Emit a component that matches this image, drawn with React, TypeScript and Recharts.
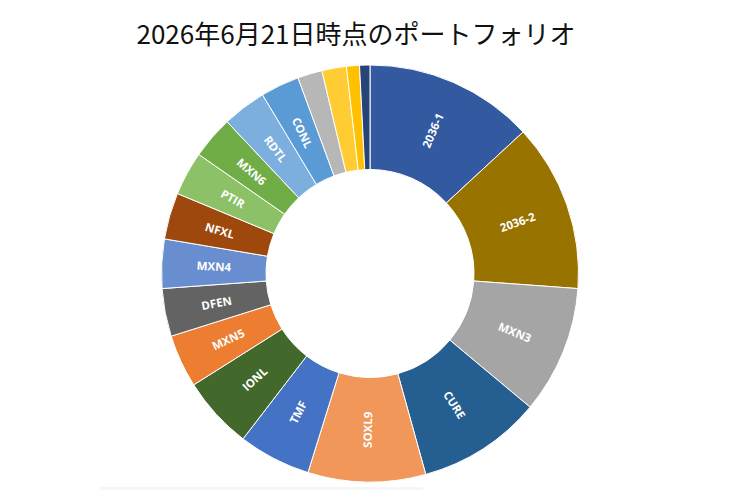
import React from "react";
import { PieChart, Pie, Cell } from "recharts";

const names = [
  "2036-1", "2036-2", "MXN3", "CURE", "SOXL9", "TMF", "IONL", "MXN5", "DFEN",
  "MXN4", "NFXL", "PTIR", "MXN6", "RDTL", "CONL", "その他A", "その他B", "その他C", "その他D",
];
const shares = [
  13.1, 13.0, 9.9, 9.6, 9.1, 5.6, 5.6, 4.1, 3.7,
  3.8, 3.6, 3.4, 3.3, 3.4, 3.0, 1.9, 1.9, 1.0, 0.8,
];
const showLabel = [
  true, true, true, true, true, true, true, true, true,
  true, true, true, true, true, true, false, false, false, false,
];
const colors = [
  "#335AA0", "#997300", "#A5A5A5", "#255E91", "#F1975A", "#4472C4", "#43682B", "#ED7D31", "#636363",
  "#698ED0", "#9E480E", "#8CC168", "#70AD47", "#7CAFDD", "#5B9BD5", "#B7B7B7", "#FFCD33", "#FFC000", "#264478",
];
const title = "2026年6月21日時点のポートフォリオ";

const data = names.map((n, i) => ({ name: n, value: shares[i], show: showLabel[i] }));

const RAD = Math.PI / 180;

const renderLabel = (props: any) => {
  const { cx, cy, midAngle, innerRadius, outerRadius, index } = props;
  if (!showLabel[index]) return null;
  const r = (innerRadius + outerRadius) / 2;
  const x = cx + r * Math.cos(-midAngle * RAD);
  const y = cy + r * Math.sin(-midAngle * RAD);
  let rot = (((-midAngle) % 180) + 180) % 180;
  if (rot > 90) rot -= 180;
  return (
    <text
      x={x}
      y={y}
      fill="#ffffff"
      fontSize={11.5}
      fontWeight={700}
      fontFamily="'Open Sans', 'Noto Sans', sans-serif"
      textAnchor="middle"
      dominantBaseline="central"
      transform={`rotate(${rot} ${x} ${y})`}
    >
      {names[index]}
    </text>
  );
};

export default function App() {
  return (
    <div style={{ position: "absolute", left: 0, top: 0, width: 740, height: 493, background: "#ffffff" }}>
      <PieChart width={740} height={493} margin={{ top: 0, right: 0, bottom: 0, left: 0 }}>
        <text
          x={356}
          y={44}
          textAnchor="middle"
          fontSize={26}
          fontFamily="'Noto Sans CJK JP', sans-serif"
          fill="#111111"
        >
          {title}
        </text>
        <Pie
          data={data}
          dataKey="value"
          nameKey="name"
          cx={370}
          cy={273.5}
          innerRadius={104}
          outerRadius={208.5}
          startAngle={90}
          endAngle={-270}
          stroke="#ffffff"
          strokeWidth={1}
          label={renderLabel}
          labelLine={false}
          isAnimationActive={false}
        >
          {data.map((d, i) => (
            <Cell key={d.name} fill={colors[i]} />
          ))}
        </Pie>
      </PieChart>
      <div style={{ position: "absolute", left: 100, top: 487, width: 323, height: 3, background: "#f6f6f6" }} />
    </div>
  );
}
